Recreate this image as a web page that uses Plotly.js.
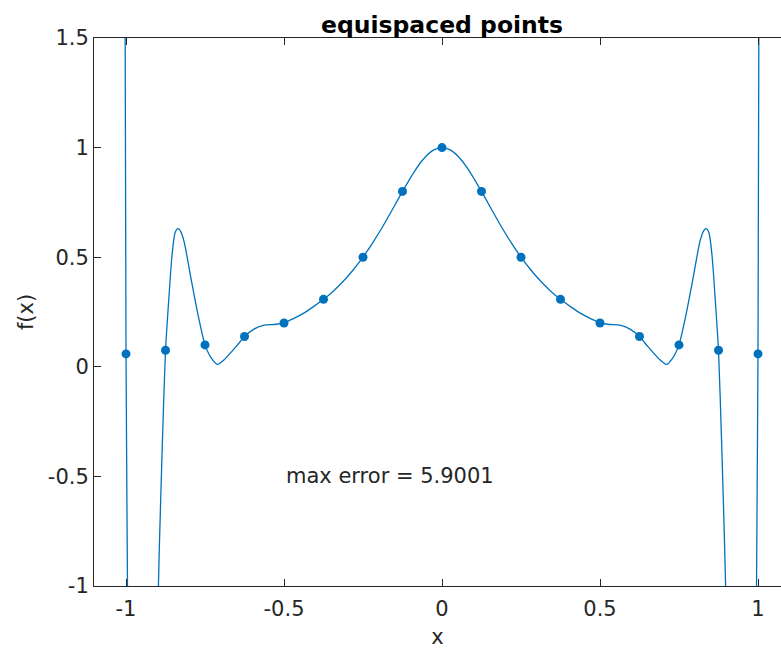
<!DOCTYPE html>
<html>
<head>
<meta charset="utf-8">
<script src="https://cdn.plot.ly/plotly-3.0.1.min.js"></script>
<style>
html, body { margin:0; padding:0; overflow:hidden; background:#fff; }
#chart { width:781px; height:653px; }
</style>
</head>
<body>
<div id="chart"></div>
<script>
// interpolation nodes (equispaced) and their values
const nodeX = [-1, -0.875, -0.75, -0.625, -0.5, -0.375, -0.25, -0.125, 0, 0.125, 0.25, 0.375, 0.5, 0.625, 0.75, 0.875, 1];
const nodeY = [0.0588, 0.0755, 0.1, 0.138, 0.2, 0.3077, 0.5, 0.8, 1, 0.8, 0.5, 0.3077, 0.2, 0.138, 0.1, 0.0755, 0.0588];

// interpolating curve
const curveX = [-1.003, -1.0, -0.993, -0.985, -0.975, -0.96, -0.94, -0.92, -0.905, -0.895, -0.885, -0.875, -0.865, -0.855, -0.845, -0.836, -0.828, -0.816, -0.794, -0.772, -0.75, -0.73, -0.71, -0.6875, -0.65, -0.625, -0.595, -0.5625, -0.53, -0.5, -0.47, -0.4375, -0.41, -0.375, -0.345, -0.3125, -0.28, -0.25, -0.22, -0.1875, -0.156, -0.125, -0.09, -0.0625, -0.03,
  0, 0.03, 0.0625, 0.09, 0.125, 0.156, 0.1875, 0.22, 0.25, 0.28, 0.3125, 0.345, 0.375, 0.41, 0.4375, 0.47, 0.5, 0.53, 0.5625, 0.595, 0.625, 0.65, 0.6875, 0.71, 0.73, 0.75, 0.772, 0.794, 0.816, 0.828, 0.836, 0.845, 0.855, 0.865, 0.875, 0.885, 0.895, 0.905, 0.92, 0.94, 0.96, 0.975, 0.985, 0.993, 1.0, 1.003];
const curveY = [1.7, 0.0588, -1.5, -3.2, -5.0, -5.85, -5.0, -3.0, -1.5, -0.85, -0.35, 0.0755, 0.3, 0.5, 0.61, 0.63, 0.62, 0.57, 0.40, 0.236, 0.1, 0.04, 0.011, 0.035, 0.095, 0.138, 0.172, 0.19, 0.193, 0.2, 0.22, 0.245, 0.271, 0.3077, 0.344, 0.39, 0.444, 0.5, 0.564, 0.64, 0.72, 0.8, 0.885, 0.941, 0.986,
  1.0, 0.986, 0.941, 0.885, 0.8, 0.72, 0.64, 0.564, 0.5, 0.444, 0.39, 0.344, 0.3077, 0.271, 0.245, 0.22, 0.2, 0.193, 0.19, 0.172, 0.138, 0.095, 0.035, 0.011, 0.04, 0.1, 0.236, 0.40, 0.57, 0.62, 0.63, 0.61, 0.5, 0.3, 0.0755, -0.35, -0.85, -1.5, -3.0, -5.0, -5.85, -5.0, -3.2, -1.5, 0.0588, 1.7];

const xTicks = [-1, -0.5, 0, 0.5, 1];
const xTickText = ['-1', '-0.5', '0', '0.5', '1'];
const yTicks = [-1, -0.5, 0, 0.5, 1, 1.5];
const yTickText = ['-1', '-0.5', '0', '0.5', '1', '1.5'];
const titleText = 'equispaced points';
const noteText = 'max error = 5.9001';

const blue = '#0072BD';
const axisCol = '#262626';
const fontFam = '"DejaVu Sans", sans-serif';
const xRange = [-1.1013, 1.0728];

const traces = [
  { x: curveX, y: curveY, mode: 'lines', type: 'scatter', xaxis: 'x', yaxis: 'y',
    line: { color: blue, width: 1.3, shape: 'spline', smoothing: 0.6 }, hoverinfo: 'skip' },
  { x: nodeX, y: nodeY, mode: 'markers', type: 'scatter', xaxis: 'x2', yaxis: 'y',
    marker: { color: blue, size: 9 } }
];

const axisCommon = {
  showgrid: false, zeroline: false, showline: true, linecolor: axisCol, linewidth: 1,
  ticks: 'inside', ticklen: 7, tickcolor: axisCol, tickwidth: 1, mirror: false,
  tickfont: { family: fontFam, size: 21, color: axisCol }
};

const layout = {
  width: 781, height: 653,
  margin: { l: 94, r: 0, t: 38, b: 67 },
  paper_bgcolor: '#fff', plot_bgcolor: '#fff',
  showlegend: false,
  font: { family: fontFam, color: axisCol },
  title: { text: '<b>' + titleText + '</b>', font: { family: fontFam, size: 23.5, color: '#000' },
           x: 0.5066, xref: 'paper', xanchor: 'center', y: 1, yref: 'paper', yanchor: 'bottom', pad: { b: 5 } },
  xaxis: Object.assign({}, axisCommon, {
    range: xRange, tickvals: xTicks, ticktext: xTickText, ticklabelstandoff: 4,
    title: { text: 'x', font: { family: fontFam, size: 21, color: axisCol }, standoff: 9 }
  }),
  xaxis2: Object.assign({}, axisCommon, {
    range: xRange, tickvals: xTicks, showticklabels: false, overlaying: 'x', side: 'top', anchor: 'y'
  }),
  yaxis: Object.assign({}, axisCommon, {
    range: [-1, 1.5], tickvals: yTicks, ticktext: yTickText,
    title: { text: 'f(x)', font: { family: fontFam, size: 21, color: axisCol }, standoff: 8 }
  }),
  annotations: [{
    x: -0.5, y: -0.5, xref: 'x', yref: 'y', text: noteText, showarrow: false,
    xanchor: 'left', yanchor: 'middle', font: { family: fontFam, size: 21, color: axisCol }
  }]
};

Plotly.newPlot('chart', traces, layout, { displayModeBar: false, staticPlot: true });
</script>
</body>
</html>
